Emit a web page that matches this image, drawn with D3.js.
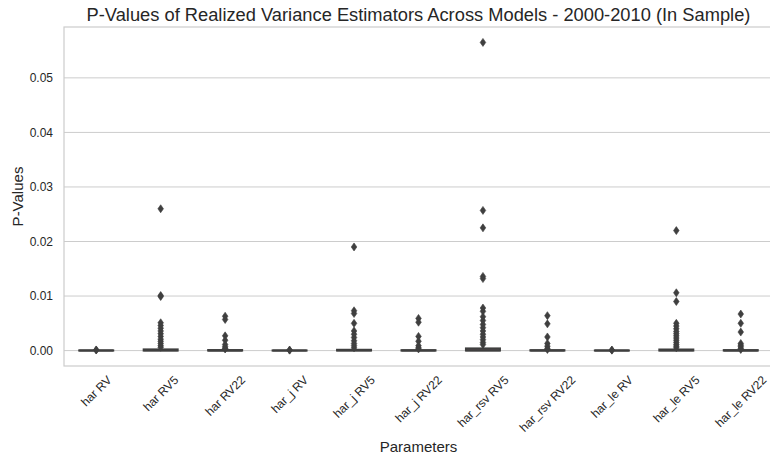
<!DOCTYPE html>
<html>
<head>
<meta charset="utf-8">
<script src="https://cdn.jsdelivr.net/npm/d3@7"></script>
<style>
  html, body { margin: 0; padding: 0; background: #fff; }
  svg { display: block; font-family: "Liberation Sans", Arial, sans-serif; }
</style>
</head>
<body>
<svg id="chart" width="770" height="459"></svg>
<script>
// Model / estimator combinations along the x axis
const categories = ["har RV", "har RV5", "har RV22", "har_j RV", "har_j RV5", "har_j RV22",
  "har_rsv RV5", "har_rsv RV22", "har_le RV", "har_le RV5", "har_le RV22"];

// Box statistics per category (p-values)
const whiskerLow  = [0, 0, 0, 0, 0, 0, 0, 0, 0, 0, 0];
const q1s         = [0, 0, 0, 0, 0, 0, 0, 0, 0, 0, 0];
const medians     = [0.00001, 0.00005, 0.00002, 0.00001, 0.00004, 0.00002, 0.00008, 0.00002, 0.00001, 0.00005, 0.00002];
const q3s         = [0.00004, 0.00022, 0.00010, 0.00003, 0.00015, 0.00008, 0.00040, 0.00008, 0.00003, 0.00020, 0.00009];
const whiskerHigh = [0.00008, 0.00050, 0.00022, 0.00006, 0.00035, 0.00018, 0.00090, 0.00018, 0.00006, 0.00045, 0.00020];

// Points beyond the whiskers
const outliers = [
  [0.00010, 0.00012],
  [0.0260, 0.0101, 0.0099, 0.0051, 0.0046, 0.0041, 0.0036, 0.0031, 0.0026, 0.0021, 0.0017, 0.0013, 0.0009, 0.0006],
  [0.0063, 0.0057, 0.0027, 0.0019, 0.0011, 0.0007, 0.0004, 0.0003],
  [0.00008, 0.00010],
  [0.0190, 0.0073, 0.0068, 0.0050, 0.0036, 0.0030, 0.0024, 0.0018, 0.0013, 0.0009, 0.0005],
  [0.0059, 0.0052, 0.0026, 0.0017, 0.0009, 0.0005, 0.0003],
  [0.0565, 0.0257, 0.0225, 0.0136, 0.0132, 0.0078, 0.0072, 0.0062, 0.0055, 0.0048, 0.0042, 0.0036, 0.0030, 0.0025, 0.0020, 0.0015, 0.0011],
  [0.0064, 0.0049, 0.0025, 0.0013, 0.0008, 0.0004, 0.0002],
  [0.00008, 0.00010],
  [0.0220, 0.0106, 0.0090, 0.0050, 0.0045, 0.0040, 0.0035, 0.0031, 0.0027, 0.0023, 0.0019, 0.0015, 0.0011, 0.0008, 0.0005],
  [0.0067, 0.0050, 0.0034, 0.0013, 0.0010, 0.0007, 0.0004, 0.0002]
];

const yTicks = [0, 0.01, 0.02, 0.03, 0.04, 0.05];
const boxFills = ["#4c72b0", "#dd8452", "#55a868", "#c44e52", "#8172b3", "#937860",
  "#da8bc3", "#8c8c8c", "#ccb974", "#64b5cd", "#4c72b0"];

const titleText = "P-Values of Realized Variance Estimators Across Models - 2000-2010 (In Sample)";
const xLabel = "Parameters";
const yLabel = "P-Values";

const svg = d3.select("#chart");
const plot = { left: 64, top: 27, right: 773, bottom: 366 };

const dataMin = d3.min([d3.min(whiskerLow), d3.min(outliers.flat())]);
const dataMax = d3.max([d3.max(whiskerHigh), d3.max(outliers.flat())]);
const span = dataMax - dataMin;

const y = d3.scaleLinear()
  .domain([dataMin - 0.05 * span, dataMax + 0.05 * span])
  .range([plot.bottom, plot.top]);

const x = d3.scaleBand()
  .domain(categories)
  .range([plot.left, plot.right])
  .padding(0);

const textColor = "#262626";
const lineGray = "#cccccc";
const boxGray = "#3f3f3f";
const tickFont = 12;

// Horizontal gridlines
svg.append("g")
  .selectAll("line")
  .data(yTicks)
  .join("line")
  .attr("x1", plot.left).attr("x2", plot.right)
  .attr("y1", d => y(d)).attr("y2", d => y(d))
  .attr("stroke", lineGray).attr("stroke-width", 1);

// Frame
svg.append("rect")
  .attr("x", plot.left).attr("y", plot.top)
  .attr("width", plot.right - plot.left).attr("height", plot.bottom - plot.top)
  .attr("fill", "none").attr("stroke", lineGray).attr("stroke-width", 1.2);

// Y axis labels
const yAxis = svg.append("g")
  .attr("transform", `translate(${plot.left},0)`)
  .call(d3.axisLeft(y).tickValues(yTicks).tickFormat(d3.format(".2f")).tickSize(0).tickPadding(11));
yAxis.select(".domain").remove();
yAxis.selectAll("text").attr("fill", textColor).style("font-size", tickFont + "px")
  .style("font-family", "'Liberation Sans', Arial, sans-serif");

// X axis labels, rotated 45 degrees and centred under each box
const xAxis = svg.append("g")
  .attr("transform", `translate(0,${plot.bottom})`)
  .call(d3.axisBottom(x).tickSize(0).tickPadding(0));
xAxis.select(".domain").remove();
xAxis.selectAll("text")
  .attr("fill", textColor).style("font-size", tickFont + "px")
  .style("font-family", "'Liberation Sans', Arial, sans-serif")
  .attr("text-anchor", "middle")
  .attr("dy", "0.35em")
  .each(function () {
    const len = this.getComputedTextLength();
    const h = tickFont * 0.9;
    const half = (len + h) / Math.SQRT2 / 2;
    d3.select(this).attr("y", 0).attr("transform", `translate(0,${8 + half}) rotate(-45)`);
  });

// Boxes
const bw = 34;
const groups = svg.append("g").selectAll("g")
  .data(categories)
  .join("g")
  .attr("transform", d => `translate(${x(d) + x.bandwidth() / 2},0)`);

groups.append("line")
  .attr("y1", (d, i) => y(whiskerLow[i])).attr("y2", (d, i) => y(whiskerHigh[i]))
  .attr("stroke", boxGray).attr("stroke-width", 1.5);

groups.append("rect")
  .attr("x", -bw / 2).attr("width", bw)
  .attr("y", (d, i) => y(q3s[i]))
  .attr("height", (d, i) => Math.max(0, y(q1s[i]) - y(q3s[i])))
  .attr("fill", (d, i) => boxFills[i])
  .attr("stroke", boxGray).attr("stroke-width", 2);

groups.append("line")
  .attr("x1", -bw / 2).attr("x2", bw / 2)
  .attr("y1", (d, i) => y(medians[i])).attr("y2", (d, i) => y(medians[i]))
  .attr("stroke", boxGray).attr("stroke-width", 2);

// Outlier diamonds
const diamond = "M0,-4L2.8,0L0,4L-2.8,0Z";
groups.each(function (d, i) {
  d3.select(this).selectAll("path")
    .data(outliers[i])
    .join("path")
    .attr("d", diamond)
    .attr("transform", v => `translate(0,${y(v)})`)
    .attr("fill", boxGray).attr("stroke", boxGray).attr("stroke-width", 0.6);
});

// Title and axis titles
svg.append("text")
  .attr("x", (plot.left + plot.right) / 2).attr("y", 21)
  .attr("text-anchor", "middle").attr("fill", textColor)
  .style("font-size", "18.3px").text(titleText);

svg.append("text")
  .attr("x", (plot.left + plot.right) / 2).attr("y", 452)
  .attr("text-anchor", "middle").attr("fill", textColor)
  .style("font-size", "15px").text(xLabel);

svg.append("text")
  .attr("transform", `translate(23,${(plot.top + plot.bottom) / 2}) rotate(-90)`)
  .attr("text-anchor", "middle").attr("fill", textColor)
  .style("font-size", "15px").text(yLabel);
</script>
</body>
</html>
